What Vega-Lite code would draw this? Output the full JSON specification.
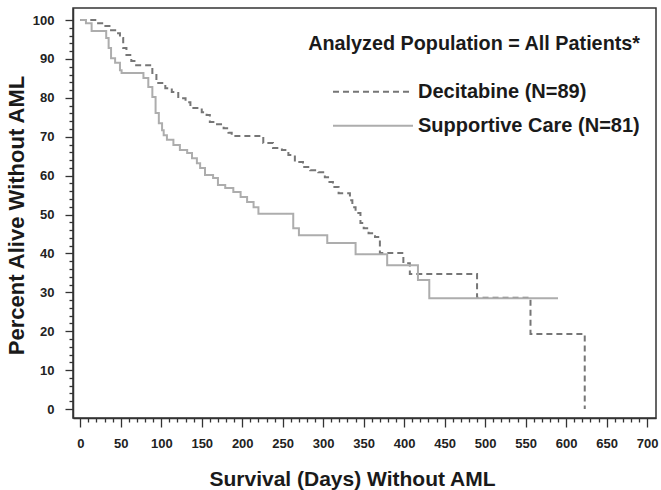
{
  "$schema": "https://vega.github.io/schema/vega-lite/v6.json",
  "width": 583,
  "height": 410,
  "autosize": {"type": "none"},
  "padding": {"left": 73, "top": 8, "right": 5, "bottom": 72},
  "background": "white",
  "config": {
    "view": {"stroke": "#333333", "strokeWidth": 1.5},
    "font": "Liberation Sans"
  },
  "datasets": {
    "km": [
      {"group": "Decitabine (N=89)", "day": 0, "pct": 100},
      {"group": "Decitabine (N=89)", "day": 22, "pct": 99.2},
      {"group": "Decitabine (N=89)", "day": 31, "pct": 98.5},
      {"group": "Decitabine (N=89)", "day": 38, "pct": 97.4},
      {"group": "Decitabine (N=89)", "day": 45, "pct": 96.6},
      {"group": "Decitabine (N=89)", "day": 49, "pct": 95.4},
      {"group": "Decitabine (N=89)", "day": 53, "pct": 92.8},
      {"group": "Decitabine (N=89)", "day": 57, "pct": 91},
      {"group": "Decitabine (N=89)", "day": 63, "pct": 89.5},
      {"group": "Decitabine (N=89)", "day": 69, "pct": 88.4},
      {"group": "Decitabine (N=89)", "day": 89, "pct": 86.4},
      {"group": "Decitabine (N=89)", "day": 94, "pct": 83.8},
      {"group": "Decitabine (N=89)", "day": 105, "pct": 82.5},
      {"group": "Decitabine (N=89)", "day": 113, "pct": 81.5},
      {"group": "Decitabine (N=89)", "day": 121, "pct": 79.9},
      {"group": "Decitabine (N=89)", "day": 130, "pct": 78.9},
      {"group": "Decitabine (N=89)", "day": 136, "pct": 77.4},
      {"group": "Decitabine (N=89)", "day": 150, "pct": 76.3},
      {"group": "Decitabine (N=89)", "day": 156, "pct": 75.6},
      {"group": "Decitabine (N=89)", "day": 160, "pct": 73.8},
      {"group": "Decitabine (N=89)", "day": 167, "pct": 73.2},
      {"group": "Decitabine (N=89)", "day": 177, "pct": 72.2},
      {"group": "Decitabine (N=89)", "day": 183, "pct": 71},
      {"group": "Decitabine (N=89)", "day": 187, "pct": 70.2},
      {"group": "Decitabine (N=89)", "day": 226, "pct": 68.4},
      {"group": "Decitabine (N=89)", "day": 238, "pct": 67.1},
      {"group": "Decitabine (N=89)", "day": 249, "pct": 66.6},
      {"group": "Decitabine (N=89)", "day": 257, "pct": 65.3},
      {"group": "Decitabine (N=89)", "day": 265, "pct": 63.5},
      {"group": "Decitabine (N=89)", "day": 275, "pct": 62.2},
      {"group": "Decitabine (N=89)", "day": 284, "pct": 61.4},
      {"group": "Decitabine (N=89)", "day": 294, "pct": 60.9},
      {"group": "Decitabine (N=89)", "day": 302, "pct": 59.6},
      {"group": "Decitabine (N=89)", "day": 306, "pct": 58.4},
      {"group": "Decitabine (N=89)", "day": 312, "pct": 57.1},
      {"group": "Decitabine (N=89)", "day": 319, "pct": 55.5},
      {"group": "Decitabine (N=89)", "day": 333, "pct": 53.7},
      {"group": "Decitabine (N=89)", "day": 336, "pct": 51.9},
      {"group": "Decitabine (N=89)", "day": 340, "pct": 50.4},
      {"group": "Decitabine (N=89)", "day": 346, "pct": 47.8},
      {"group": "Decitabine (N=89)", "day": 350, "pct": 46.5},
      {"group": "Decitabine (N=89)", "day": 356, "pct": 45.2},
      {"group": "Decitabine (N=89)", "day": 364, "pct": 44.2},
      {"group": "Decitabine (N=89)", "day": 370, "pct": 40.1},
      {"group": "Decitabine (N=89)", "day": 399, "pct": 37.5},
      {"group": "Decitabine (N=89)", "day": 407, "pct": 34.7},
      {"group": "Decitabine (N=89)", "day": 490, "pct": 28.6},
      {"group": "Decitabine (N=89)", "day": 556, "pct": 19.3},
      {"group": "Decitabine (N=89)", "day": 623, "pct": 0},
      {"group": "Supportive Care (N=81)", "day": 0, "pct": 100},
      {"group": "Supportive Care (N=81)", "day": 7, "pct": 99.2},
      {"group": "Supportive Care (N=81)", "day": 14, "pct": 97.2},
      {"group": "Supportive Care (N=81)", "day": 32, "pct": 95.4},
      {"group": "Supportive Care (N=81)", "day": 35, "pct": 92.8},
      {"group": "Supportive Care (N=81)", "day": 38, "pct": 90.2},
      {"group": "Supportive Care (N=81)", "day": 43, "pct": 89},
      {"group": "Supportive Care (N=81)", "day": 49, "pct": 87.1},
      {"group": "Supportive Care (N=81)", "day": 51, "pct": 86.4},
      {"group": "Supportive Care (N=81)", "day": 78, "pct": 85.1},
      {"group": "Supportive Care (N=81)", "day": 84, "pct": 82.8},
      {"group": "Supportive Care (N=81)", "day": 89, "pct": 80.2},
      {"group": "Supportive Care (N=81)", "day": 93, "pct": 76.1},
      {"group": "Supportive Care (N=81)", "day": 97, "pct": 73.5},
      {"group": "Supportive Care (N=81)", "day": 101, "pct": 71.7},
      {"group": "Supportive Care (N=81)", "day": 103, "pct": 70.4},
      {"group": "Supportive Care (N=81)", "day": 107, "pct": 69.2},
      {"group": "Supportive Care (N=81)", "day": 115, "pct": 67.9},
      {"group": "Supportive Care (N=81)", "day": 123, "pct": 66.6},
      {"group": "Supportive Care (N=81)", "day": 132, "pct": 65.8},
      {"group": "Supportive Care (N=81)", "day": 138, "pct": 64.5},
      {"group": "Supportive Care (N=81)", "day": 144, "pct": 63.2},
      {"group": "Supportive Care (N=81)", "day": 148, "pct": 62},
      {"group": "Supportive Care (N=81)", "day": 154, "pct": 60.2},
      {"group": "Supportive Care (N=81)", "day": 164, "pct": 59.4},
      {"group": "Supportive Care (N=81)", "day": 170, "pct": 57.6},
      {"group": "Supportive Care (N=81)", "day": 179, "pct": 56.8},
      {"group": "Supportive Care (N=81)", "day": 189, "pct": 55.8},
      {"group": "Supportive Care (N=81)", "day": 198, "pct": 54.5},
      {"group": "Supportive Care (N=81)", "day": 206, "pct": 53.2},
      {"group": "Supportive Care (N=81)", "day": 214, "pct": 51.9},
      {"group": "Supportive Care (N=81)", "day": 220, "pct": 50.2},
      {"group": "Supportive Care (N=81)", "day": 263, "pct": 46.5},
      {"group": "Supportive Care (N=81)", "day": 270, "pct": 44.7},
      {"group": "Supportive Care (N=81)", "day": 305, "pct": 42.7},
      {"group": "Supportive Care (N=81)", "day": 340, "pct": 39.8},
      {"group": "Supportive Care (N=81)", "day": 379, "pct": 37},
      {"group": "Supportive Care (N=81)", "day": 417, "pct": 33.2},
      {"group": "Supportive Care (N=81)", "day": 431, "pct": 28.5},
      {"group": "Supportive Care (N=81)", "day": 590, "pct": 28.5}
    ]
  },
  "data": {"name": "km"},
  "mark": {"type": "line", "interpolate": "step-after", "strokeWidth": 2},
  "encoding": {
    "x": {
      "field": "day",
      "type": "quantitative",
      "scale": {"domain": [-9, 711], "nice": false, "zero": false},
      "axis": {
        "title": "Survival (Days) Without AML",
        "values": [0,10,20,30,40,50,60,70,80,90,100,110,120,130,140,150,160,170,180,190,200,210,220,230,240,250,260,270,280,290,300,310,320,330,340,350,360,370,380,390,400,410,420,430,440,450,460,470,480,490,500,510,520,530,540,550,560,570,580,590,600,610,620,630,640,650,660,670,680,690,700],
        "labelExpr": "datum.value % 50 === 0 ? datum.label : ''",
        "tickSize": {"condition": {"test": "datum.value % 50 === 0", "value": 9}, "value": 4},
        "grid": false,
        "domainColor": "#333333",
        "domainWidth": 1.5,
        "tickColor": "#333333",
        "tickWidth": 1.3,
        "labelFont": "Liberation Sans",
        "labelFontSize": 13,
        "labelFontWeight": "bold",
        "labelColor": "#222222",
        "labelPadding": 10,
        "labelFlush": false,
        "labelOverlap": false,
        "titleFont": "Liberation Sans",
        "titleFontSize": 21,
        "titleFontWeight": "bold",
        "titleColor": "#1a1a1a",
        "titleX": 279,
        "titleY": 67,
        "titleBaseline": "alphabetic",
        "titleAnchor": null
      }
    },
    "y": {
      "field": "pct",
      "type": "quantitative",
      "scale": {"domain": [-2.3, 103.1], "nice": false, "zero": false},
      "axis": {
        "title": "Percent Alive Without AML",
        "values": [0,2,4,6,8,10,12,14,16,18,20,22,24,26,28,30,32,34,36,38,40,42,44,46,48,50,52,54,56,58,60,62,64,66,68,70,72,74,76,78,80,82,84,86,88,90,92,94,96,98,100],
        "labelExpr": "datum.value % 10 === 0 ? datum.label : ''",
        "tickSize": {"condition": {"test": "datum.value % 10 === 0", "value": 8}, "value": 4},
        "grid": false,
        "domainColor": "#333333",
        "domainWidth": 1.5,
        "tickColor": "#333333",
        "tickWidth": 1.3,
        "labelFont": "Liberation Sans",
        "labelFontSize": 13,
        "labelFontWeight": "bold",
        "labelColor": "#222222",
        "labelPadding": 11,
        "labelFlush": false,
        "labelOverlap": false,
        "titleFont": "Liberation Sans",
        "titleFontSize": 22,
        "titleFontWeight": "bold",
        "titleColor": "#1a1a1a",
        "titleX": -57,
        "titleY": 207,
        "titleBaseline": "middle",
        "titleAngle": -90
      }
    },
    "color": {
      "field": "group",
      "type": "nominal",
      "scale": {"domain": ["Decitabine (N=89)", "Supportive Care (N=81)"], "range": ["#767676", "#adadad"]},
      "legend": {
        "title": "Analyzed Population = All Patients*",
        "orient": "none",
        "legendX": 235,
        "legendY": 26,
        "padding": 0,
        "symbolType": "M-10,0H10",
        "symbolSize": 64,
        "symbolStrokeWidth": 2,
        "labelOffset": 35,
        "labelFont": "Liberation Sans",
        "labelFontSize": 20,
        "labelFontWeight": "bold",
        "labelColor": "#1a1a1a",
        "titleFont": "Liberation Sans",
        "titleFontSize": 19.8,
        "titleFontWeight": "bold",
        "titleColor": "#1a1a1a",
        "titleAnchor": "end",
        "titleLimit": 600,
        "titlePadding": 28,
        "rowPadding": 14,
        "labelLimit": 400
      }
    },
    "strokeDash": {
      "field": "group",
      "type": "nominal",
      "scale": {"domain": ["Decitabine (N=89)", "Supportive Care (N=81)"], "range": [[6, 4], [1, 0]]},
      "legend": null
    }
  }
}
